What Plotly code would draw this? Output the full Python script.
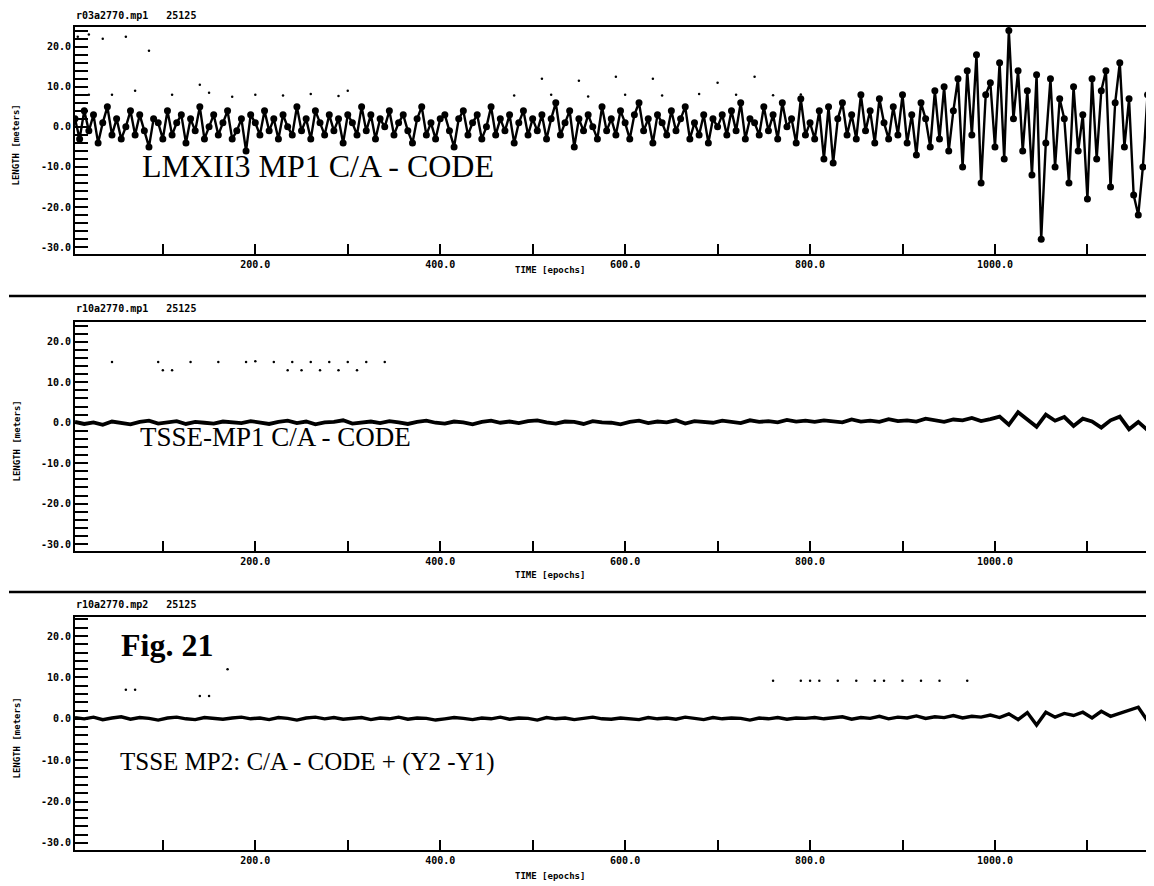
import plotly.graph_objects as go

# ---------------- data ----------------
epochs_top = list(range(5, 1171, 5))  # 234 epochs
length_lmx = [
    2, -3, 4, -1, 3, -4, 1, 5, -2, 2, -3, 0, 4, -2, 3, -1, -5, 2, 1, -3,
    4, -2, 1, 3, -4, 2, -1, 5, -3, 0, 3, -2, 1, 4, -3, -1, 2, -6, 3, 1,
    -2, 4, -1, 2, -3, 3, 0, -2, 5, -1, 2, -3, 4, 1, -2, 3, -1, 2, -4, 3,
    1, -2, 5, -1, 3, -3, 2, 0, 4, -2, 1, 3, -1, -4, 2, 5, -2, 1, -3, 2,
    3, -1, -5, 2, 4, -2, 1, 3, -3, 0, 5, -2, 2, -1, 3, -4, 1, 4, -2, 2,
    -1, 3, -3, 2, 6, -2, 1, 4, -5, 2, -1, 3, 0, -3, 5, -1, 2, -2, 4, 1,
    -3, 3, 6, -1, 2, -4, 3, 1, -2, 4, -1, 2, 5, -3, 1, -2, 3, -4, 2, 0,
    3, -2, 4, -1, 6, -3, 2, 1, -2, 5, -1, 3, -3, 6, 0, 2, -4, 7, -2, 1,
    -3, 4, -8, 5, -9, 2, 6, -2, 3, -3, 8, -1, 4, -4, 7, 1, -3, 5, -2, 8,
    -4, 3, -7, 6, 2, -5, 9, -3, 10, -6, 4, 12, -10, 14, -2, 18, -14, 8, 11, -5,
    16, -8, 24, 2, 14, -6, 9, -12, 13, -28, -4, 12, -10, 7, 2, -14, 10, -6, 3, -18,
    12, -8, 9, 14, -15, 6, 16, -5, 7, -17, -22, -10, 8, -20,
]

epochs = list(range(5, 1166, 10))  # 117 epochs
length_tsse_mp1 = [
    0.2, -0.3, 0.1, -0.5, 0.3, 0.0, -0.4, 0.2, 0.5, -0.2, 0.1, 0.4, -0.3, 0.2, 0.0, -0.2, 0.3, 0.1, -0.1, 0.4,
    0.0, -0.3, 0.2, 0.5, -0.1, 0.3, -0.4, 0.1, 0.2, 0.6, -0.2, 0.0, 0.3, -0.1, 0.4, 0.1, -0.3, 0.2, 0.5, 0.0,
    -0.2, 0.3, 0.1, -0.4, 0.2, 0.5, 0.0, 0.3, -0.1, 0.4, 0.6, 0.1, -0.2, 0.3, 0.2, -0.3, 0.4, 0.1, 0.0, -0.4,
    0.2, 0.5, -0.1, 0.3, 0.1, 0.6, -0.2, 0.4, 0.2, 0.0, 0.5, 0.3, -0.1, 0.6, 0.2, 0.4, 0.1, 0.7, 0.3, 0.5,
    0.2, 0.6, 0.4, 0.1, 0.8, 0.3, 0.5, 0.2, 0.9, 0.4, 0.6, 0.3, 1.0, 0.5, 0.2, 0.8, 0.6, 1.2, 0.4, 0.9,
    1.5, -0.5, 2.6, 0.8, -1.0, 2.0, 0.5, 1.4, -0.8, 1.0, 0.3, -1.2, 0.6, 1.5, -1.6, 0.2, -1.8,
]
length_tsse_mp2 = [
    0.3, 0.0, 0.4, -0.2, 0.2, 0.5, -0.1, 0.3, 0.1, -0.3, 0.2, 0.4, 0.0, -0.2, 0.3, 0.1, -0.1, 0.2, 0.4, 0.0,
    0.2, -0.2, 0.3, 0.1, -0.3, 0.2, 0.4, 0.0, 0.3, -0.1, 0.1, 0.3, -0.2, 0.2, 0.0, 0.4, -0.1, 0.2, 0.1, -0.3,
    0.0, 0.3, 0.1, -0.2, 0.2, 0.0, 0.4, -0.1, 0.2, 0.1, -0.3, 0.3, 0.0, 0.2, -0.2, 0.1, 0.4, 0.0, -0.1, 0.2,
    0.1, -0.2, 0.3, 0.0, 0.2, -0.1, 0.4, 0.1, -0.2, 0.3, 0.0, 0.2, 0.1, -0.3, 0.2, 0.0, 0.3, -0.1, 0.2, 0.1,
    0.3, 0.0, 0.2, 0.5, -0.1, 0.3, 0.1, 0.6, 0.0, 0.4, 0.2, 0.7, 0.1, 0.5, 0.3, 0.8, 0.2, 0.6, 0.4, 0.9,
    0.3, 1.2, -0.2, 1.5, -1.5, 1.6, 0.4, 1.3, 0.8, 1.6, 0.2, 1.8, 0.6, 1.4, 2.2, 2.8, -0.5,
]

# sparse secondary points
aux1_x = [8, 20, 35, 60, 85, 110, 150, 175, 200, 230, 260, 290, 480, 520, 560, 600, 640, 680, 720, 760, 790, 20, 45, 70, 140, 300, 510, 550, 590, 630, 700, 740]
aux1_y = [22.5, 23, 22, 22.5, 19, 8, 8.5, 7.5, 8, 7.8, 8.2, 7.7, 7.8, 8, 7.6, 8, 7.8, 8.2, 8, 7.9, 8.1, 8, 8, 9, 10.5, 9, 12, 11.5, 12.5, 12, 11, 12.5]
aux2_x = [45, 95, 100, 110, 130, 160, 190, 200, 220, 240, 260, 280, 300, 320, 340, 235, 250, 270, 290, 310]
aux2_y = [15, 15, 13, 13, 15, 15, 15, 15.2, 15, 15, 15, 15, 15, 15, 15, 13, 13, 13, 13, 13]
aux3_x = [60, 70, 140, 150, 170, 760, 790, 800, 810, 830, 850, 870, 880, 900, 920, 940, 970]
aux3_y = [7, 7, 5.5, 5.5, 12, 9.2, 9.2, 9.2, 9.2, 9.2, 9.2, 9.2, 9.2, 9.2, 9.2, 9.2, 9.2]

# tick positions (every 2 m on y, every 100 epochs on x) and their labels
ytick_vals = list(range(-30, 25, 2))
ytick_labels = {-30: "-30.0", -20: "-20.0", -10: "-10.0", 0: "0.0", 10: "10.0", 20: "20.0"}
xtick_vals = list(range(100, 1200, 100))
xtick_labels = {200: "200.0", 400: "400.0", 600: "600.0", 800: "800.0", 1000: "1000.0"}

headers = ["r03a2770.mp1   25125", "r10a2770.mp1   25125", "r10a2770.mp2   25125"]
labels = ["LMXII3 MP1 C/A - CODE", "TSSE-MP1 C/A - CODE", "TSSE MP2: C/A - CODE + (Y2 -Y1)"]

# ---------------- figure ----------------
# The page body has an 8px default margin, so the figure is laid out 8px smaller
# and all reference pixel positions are shifted by that offset.
OFF = 8
W, H = 1154 - OFF, 886 - OFF
def py(p):
    return 1 - (p - OFF) / H
def px(p):
    return (p - OFF) / W

fig = go.Figure()
black = "black"

fig.add_trace(go.Scatter(x=epochs_top, y=length_lmx, mode="lines+markers",
                         line=dict(color=black, width=2.4), marker=dict(color=black, size=7),
                         xaxis="x", yaxis="y", showlegend=False))
fig.add_trace(go.Scatter(x=aux1_x, y=aux1_y, mode="markers", marker=dict(color=black, size=2.5),
                         xaxis="x", yaxis="y", showlegend=False))
fig.add_trace(go.Scatter(x=epochs, y=length_tsse_mp1, mode="lines",
                         line=dict(color=black, width=3.8), xaxis="x2", yaxis="y2", showlegend=False))
fig.add_trace(go.Scatter(x=aux2_x, y=aux2_y, mode="markers", marker=dict(color=black, size=2.5),
                         xaxis="x2", yaxis="y2", showlegend=False))
fig.add_trace(go.Scatter(x=epochs, y=length_tsse_mp2, mode="lines",
                         line=dict(color=black, width=3.4), xaxis="x3", yaxis="y3", showlegend=False))
fig.add_trace(go.Scatter(x=aux3_x, y=aux3_y, mode="markers", marker=dict(color=black, size=2.5),
                         xaxis="x3", yaxis="y3", showlegend=False))

tickfont = dict(family="DejaVu Sans Mono", size=10, color=black, weight="bold")

panels = [
    # (top border px, bottom axis px, y range)
    (27, 254, [-31.7, 24.9]),
    (322, 551, [-31.7, 24.9]),
    (617, 850, [-31.7, 24.6]),
]
xdom = [px(75), 1.0]
xrange = [5, 1172]

fig.update_layout(width=W, height=H, margin=dict(l=0, r=0, t=0, b=0),
                  paper_bgcolor="white", plot_bgcolor="white", showlegend=False)

for i, (top, bot, yr) in enumerate(panels):
    sfx = "" if i == 0 else str(i + 1)
    xa = dict(domain=xdom, range=xrange, anchor="y" + sfx,
              showline=True, linecolor=black, linewidth=2, mirror=True,
              showgrid=False, zeroline=False,
              tickvals=xtick_vals, ticktext=[xtick_labels.get(v, "") for v in xtick_vals],
              ticks="inside", ticklen=10, tickwidth=2, tickcolor=black, tickfont=tickfont)
    ya = dict(domain=[py(bot), py(top)], range=yr, anchor="x" + sfx,
              showline=True, linecolor=black, linewidth=2,
              showgrid=False, zeroline=False,
              tickvals=ytick_vals, ticktext=[ytick_labels.get(v, "") for v in ytick_vals],
              ticks="inside", ticklen=13, tickwidth=2, tickcolor=black, tickfont=tickfont)
    fig.update_layout({"xaxis" + sfx: xa, "yaxis" + sfx: ya})

ann = []
header_y = [15, 308, 604]
xtitle_y = [270, 575, 876]
for i in range(3):
    ann.append(dict(text=headers[i], x=px(74), y=py(header_y[i]), xref="paper", yref="paper",
                    xanchor="left", yanchor="middle", showarrow=False,
                    font=dict(family="DejaVu Sans Mono", size=10, color=black, weight="bold")))
    ann.append(dict(text="TIME [epochs]", x=px(550), y=py(xtitle_y[i]), xref="paper", yref="paper",
                    xanchor="center", yanchor="middle", showarrow=False,
                    font=dict(family="DejaVu Sans Mono", size=9, color=black, weight="bold")))
    top, bot, _ = panels[i]
    ann.append(dict(text="LENGTH [meters]", x=px(16), y=py((top + bot) / 2 + 5), xref="paper", yref="paper",
                    xanchor="center", yanchor="middle", showarrow=False, textangle=-90,
                    font=dict(family="DejaVu Sans Mono", size=9, color=black, weight="bold")))

label_pos = [(140, 166, 32), (138, 437, 27), (118, 762, 25)]
for (lx, ly, fs), txt in zip(label_pos, labels):
    ann.append(dict(text=txt, x=px(lx), y=py(ly), xref="paper", yref="paper",
                    xanchor="left", yanchor="middle", showarrow=False,
                    font=dict(family="Liberation Serif", size=fs, color=black)))
ann.append(dict(text="Fig. 21", x=px(119), y=py(645), xref="paper", yref="paper",
                xanchor="left", yanchor="middle", showarrow=False,
                font=dict(family="Liberation Serif", size=32, color=black, weight="bold")))
fig.update_layout(annotations=ann)

shapes = []
for sy in [296, 592]:
    shapes.append(dict(type="line", xref="paper", yref="paper", x0=px(9), x1=1.0,
                       y0=py(sy), y1=py(sy), line=dict(color=black, width=2.5)))
fig.update_layout(shapes=shapes)

fig.write_html("out.html", config={"displayModeBar": False})
